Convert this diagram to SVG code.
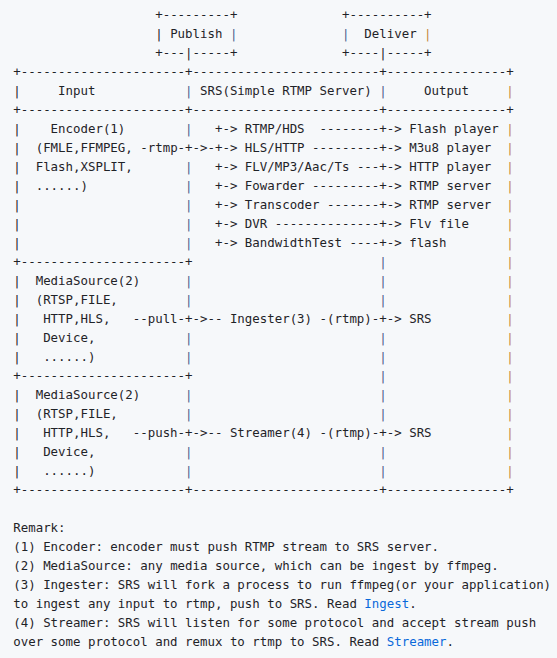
<svg xmlns="http://www.w3.org/2000/svg" width="557" height="658" viewBox="0 0 557 658">
<style>
text{font-family:"DejaVu Sans Mono","Liberation Mono",monospace;font-size:12.41px;fill:#1f2328;white-space:pre}
.lk{fill:#0969da}
.po{fill:#c4863f}
.pb{fill:#4f5f8c}
</style>
<rect width="557" height="658" fill="#f6f8fa"/>

<g id="publish">
<text x="155.19" y="19" textLength="82.17" lengthAdjust="spacing">+---------+</text>
<text x="155.19" y="38">|</text>
<text x="170.13" y="38" textLength="52.29" lengthAdjust="spacing">Publish</text>
<text x="229.89" y="38" class="pb">|</text>
<text x="155.19" y="57" textLength="82.17" lengthAdjust="spacing">+---|-----+</text>
</g>

<g id="deliver">
<text x="341.94" y="19" textLength="89.64" lengthAdjust="spacing">+----------+</text>
<text x="341.94" y="38" class="pb">|</text>
<text x="364.35" y="38" textLength="52.29" lengthAdjust="spacing">Deliver</text>
<text x="424.11" y="38" class="po">|</text>
<text x="341.94" y="57" textLength="89.64" lengthAdjust="spacing">+----|-----+</text>
</g>

<g id="table-frame">
<text x="13.26" y="76" textLength="500.49" lengthAdjust="spacing">+----------------------+-------------------------+----------------+</text>
<text x="13.26" y="114" textLength="500.49" lengthAdjust="spacing">+----------------------+-------------------------+----------------+</text>
<text x="13.26" y="266" textLength="179.28" lengthAdjust="spacing">+----------------------+</text>
<text x="13.26" y="380" textLength="179.28" lengthAdjust="spacing">+----------------------+</text>
<text x="13.26" y="494" textLength="500.49" lengthAdjust="spacing">+----------------------+-------------------------+----------------+</text>
<text><tspan x="13.26" y="95">|</tspan><tspan x="13.26" y="133">|</tspan><tspan x="13.26" y="152">|</tspan><tspan x="13.26" y="171">|</tspan><tspan x="13.26" y="190">|</tspan><tspan x="13.26" y="209">|</tspan><tspan x="13.26" y="228">|</tspan><tspan x="13.26" y="247">|</tspan><tspan x="13.26" y="285">|</tspan><tspan x="13.26" y="304">|</tspan><tspan x="13.26" y="323">|</tspan><tspan x="13.26" y="342">|</tspan><tspan x="13.26" y="361">|</tspan><tspan x="13.26" y="399">|</tspan><tspan x="13.26" y="418">|</tspan><tspan x="13.26" y="437">|</tspan><tspan x="13.26" y="456">|</tspan><tspan x="13.26" y="475">|</tspan></text>
<text class="pb"><tspan x="185.07" y="95">|</tspan><tspan x="185.07" y="133">|</tspan><tspan x="185.07" y="171">|</tspan><tspan x="185.07" y="190">|</tspan><tspan x="185.07" y="209">|</tspan><tspan x="185.07" y="228">|</tspan><tspan x="185.07" y="247">|</tspan><tspan x="185.07" y="285">|</tspan><tspan x="185.07" y="304">|</tspan><tspan x="185.07" y="342">|</tspan><tspan x="185.07" y="361">|</tspan><tspan x="185.07" y="399">|</tspan><tspan x="185.07" y="418">|</tspan><tspan x="185.07" y="456">|</tspan><tspan x="185.07" y="475">|</tspan></text>
<text class="pb"><tspan x="379.29" y="95">|</tspan><tspan x="379.29" y="266">|</tspan><tspan x="379.29" y="285">|</tspan><tspan x="379.29" y="304">|</tspan><tspan x="379.29" y="342">|</tspan><tspan x="379.29" y="361">|</tspan><tspan x="379.29" y="380">|</tspan><tspan x="379.29" y="399">|</tspan><tspan x="379.29" y="418">|</tspan><tspan x="379.29" y="456">|</tspan><tspan x="379.29" y="475">|</tspan></text>
<text class="po"><tspan x="506.28" y="95">|</tspan><tspan x="506.28" y="133">|</tspan><tspan x="506.28" y="152">|</tspan><tspan x="506.28" y="171">|</tspan><tspan x="506.28" y="190">|</tspan><tspan x="506.28" y="209">|</tspan><tspan x="506.28" y="228">|</tspan><tspan x="506.28" y="247">|</tspan><tspan x="506.28" y="266">|</tspan><tspan x="506.28" y="285">|</tspan><tspan x="506.28" y="304">|</tspan><tspan x="506.28" y="323">|</tspan><tspan x="506.28" y="342">|</tspan><tspan x="506.28" y="361">|</tspan><tspan x="506.28" y="380">|</tspan><tspan x="506.28" y="399">|</tspan><tspan x="506.28" y="418">|</tspan><tspan x="506.28" y="437">|</tspan><tspan x="506.28" y="456">|</tspan><tspan x="506.28" y="475">|</tspan></text>
</g>

<g id="headers">
<text x="58.08" y="95" textLength="37.35" lengthAdjust="spacing">Input</text>
<text x="200.01" y="95" textLength="171.81" lengthAdjust="spacing">SRS(Simple RTMP Server)</text>
<text x="424.11" y="95" textLength="44.82" lengthAdjust="spacing">Output</text>
</g>

<g id="encoder">
<text x="50.61" y="133" textLength="74.7" lengthAdjust="spacing">Encoder(1)</text>
<text x="35.67" y="152" textLength="97.11" lengthAdjust="spacing">(FMLE,FFMPEG,</text>
<text x="35.67" y="171" textLength="97.11" lengthAdjust="spacing">Flash,XSPLIT,</text>
<text x="35.67" y="190" textLength="52.29" lengthAdjust="spacing">......)</text>
</g>

<g id="srs-modules">
<text x="244.83" y="133" textLength="59.76" lengthAdjust="spacing">RTMP/HDS</text>
<text x="244.83" y="152" textLength="59.76" lengthAdjust="spacing">HLS/HTTP</text>
<text x="244.83" y="171" textLength="104.58" lengthAdjust="spacing">FLV/MP3/Aac/Ts</text>
<text x="244.83" y="190" textLength="59.76" lengthAdjust="spacing">Fowarder</text>
<text x="244.83" y="209" textLength="74.7" lengthAdjust="spacing">Transcoder</text>
<text x="244.83" y="228">DVR</text>
<text x="244.83" y="247" textLength="97.11" lengthAdjust="spacing">BandwidthTest</text>
</g>

<g id="outputs">
<text x="409.17" y="133" textLength="89.64" lengthAdjust="spacing">Flash player</text>
<text x="409.17" y="152" textLength="82.17" lengthAdjust="spacing">M3u8 player</text>
<text x="409.17" y="171" textLength="82.17" lengthAdjust="spacing">HTTP player</text>
<text x="409.17" y="190" textLength="82.17" lengthAdjust="spacing">RTMP server</text>
<text x="409.17" y="209" textLength="82.17" lengthAdjust="spacing">RTMP server</text>
<text x="409.17" y="228" textLength="59.76" lengthAdjust="spacing">Flv file</text>
<text x="409.17" y="247" textLength="37.35" lengthAdjust="spacing">flash</text>
<text x="409.17" y="323">SRS</text>
<text x="409.17" y="437">SRS</text>
</g>

<g id="mediasource-pull">
<text x="35.67" y="285" textLength="104.58" lengthAdjust="spacing">MediaSource(2)</text>
<text x="35.67" y="304" textLength="82.17" lengthAdjust="spacing">(RTSP,FILE,</text>
<text x="43.14" y="323" textLength="67.23" lengthAdjust="spacing">HTTP,HLS,</text>
<text x="43.14" y="342" textLength="52.29" lengthAdjust="spacing">Device,</text>
<text x="43.14" y="361" textLength="52.29" lengthAdjust="spacing">......)</text>
</g>

<g id="mediasource-push">
<text x="35.67" y="399" textLength="104.58" lengthAdjust="spacing">MediaSource(2)</text>
<text x="35.67" y="418" textLength="82.17" lengthAdjust="spacing">(RTSP,FILE,</text>
<text x="43.14" y="437" textLength="67.23" lengthAdjust="spacing">HTTP,HLS,</text>
<text x="43.14" y="456" textLength="52.29" lengthAdjust="spacing">Device,</text>
<text x="43.14" y="475" textLength="52.29" lengthAdjust="spacing">......)</text>
</g>

<g id="ingester">
<text x="229.89" y="323" textLength="82.17" lengthAdjust="spacing">Ingester(3)</text>
</g>

<g id="streamer">
<text x="229.89" y="437" textLength="82.17" lengthAdjust="spacing">Streamer(4)</text>
</g>

<g id="connectors">
<text x="214.95" y="133">+-&gt;</text>
<text x="319.53" y="133" textLength="82.17" lengthAdjust="spacing">--------+-&gt;</text>
<text x="140.25" y="152" textLength="97.11" lengthAdjust="spacing">-rtmp-+-&gt;-+-&gt;</text>
<text x="312.06" y="152" textLength="89.64" lengthAdjust="spacing">---------+-&gt;</text>
<text x="214.95" y="171">+-&gt;</text>
<text x="356.88" y="171" textLength="44.82" lengthAdjust="spacing">---+-&gt;</text>
<text x="214.95" y="190">+-&gt;</text>
<text x="312.06" y="190" textLength="89.64" lengthAdjust="spacing">---------+-&gt;</text>
<text x="214.95" y="209">+-&gt;</text>
<text x="327.00" y="209" textLength="74.7" lengthAdjust="spacing">-------+-&gt;</text>
<text x="214.95" y="228">+-&gt;</text>
<text x="274.71" y="228" textLength="126.99" lengthAdjust="spacing">--------------+-&gt;</text>
<text x="214.95" y="247">+-&gt;</text>
<text x="349.41" y="247" textLength="52.29" lengthAdjust="spacing">----+-&gt;</text>
<text x="132.78" y="323" textLength="89.64" lengthAdjust="spacing">--pull-+-&gt;--</text>
<text x="319.53" y="323" textLength="82.17" lengthAdjust="spacing">-(rtmp)-+-&gt;</text>
<text x="132.78" y="437" textLength="89.64" lengthAdjust="spacing">--push-+-&gt;--</text>
<text x="319.53" y="437" textLength="82.17" lengthAdjust="spacing">-(rtmp)-+-&gt;</text>
</g>

<g id="remark">
<text x="13.26" y="532" textLength="52.29" lengthAdjust="spacing">Remark:</text>
<text x="13.26" y="551" textLength="425.79" lengthAdjust="spacing">(1) Encoder: encoder must push RTMP stream to SRS server.</text>
<text x="13.26" y="570" textLength="485.55" lengthAdjust="spacing">(2) MediaSource: any media source, which can be ingest by ffmpeg.</text>
<text x="13.26" y="589" textLength="537.84" lengthAdjust="spacing">(3) Ingester: SRS will fork a process to run ffmpeg(or your application)</text>
<text x="13.26" y="608" textLength="343.62" lengthAdjust="spacing">to ingest any input to rtmp, push to SRS. Read</text>
<text x="364.35" y="608" class="lk" textLength="44.82" lengthAdjust="spacing">Ingest</text>
<text x="409.17" y="608">.</text>
<text x="13.26" y="627" textLength="522.9" lengthAdjust="spacing">(4) Streamer: SRS will listen for some protocol and accept stream push</text>
<text x="13.26" y="646" textLength="366.03" lengthAdjust="spacing">over some protocol and remux to rtmp to SRS. Read</text>
<text x="386.76" y="646" class="lk" textLength="59.76" lengthAdjust="spacing">Streamer</text>
<text x="446.52" y="646">.</text>
</g>
</svg>
